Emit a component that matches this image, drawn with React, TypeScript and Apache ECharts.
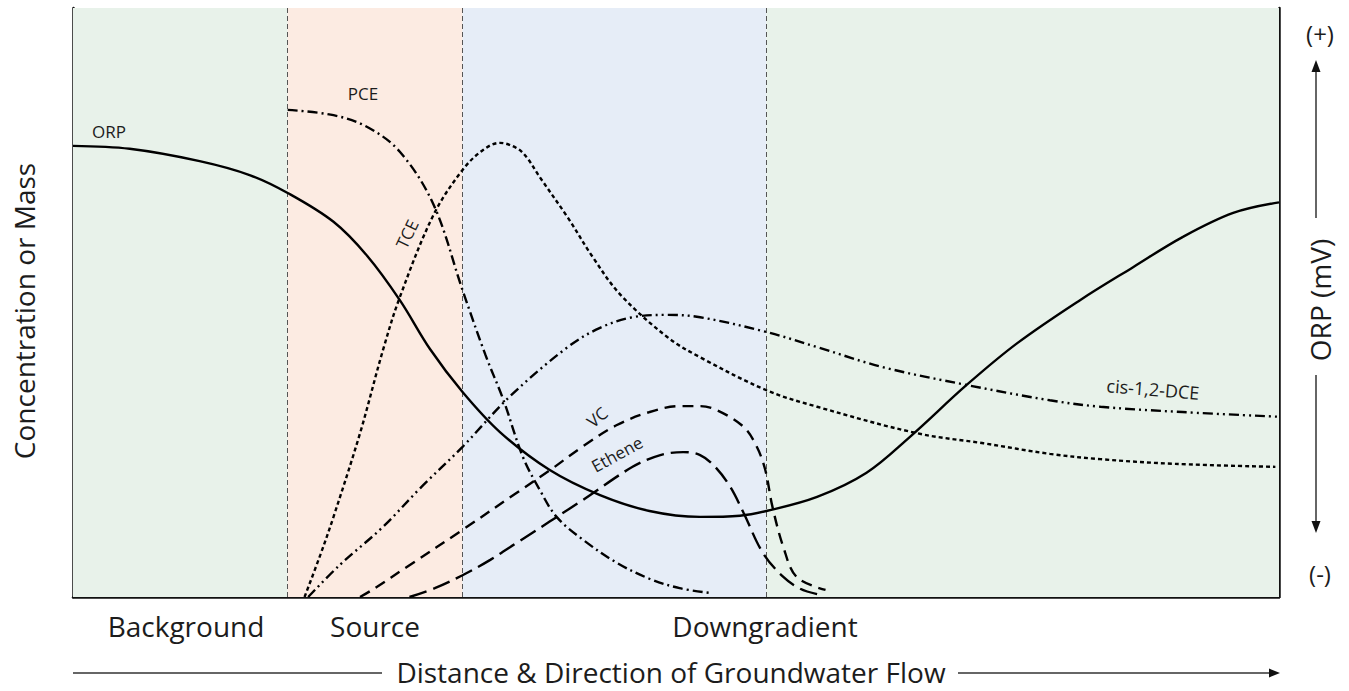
import React, { useEffect, useRef } from "react";
import * as echarts from "echarts";

// Zones along the flow path (distance, 0-100)
const zoneEdges = [0, 17.8, 32.3, 57.5, 100];
const zoneColors = ["#e8f2ea", "#fcebe2", "#e6edf7", "#e8f2ea"];
const zoneBoundaries = [17.8, 32.3, 57.5];

// ORP (relative, 0-100)
const orpX = [0, 4.7, 10.5, 14.7, 17.8, 21.6, 24.4, 27.1, 29.6, 32.3, 35.4, 39.5, 43.7, 47.8, 52.0, 55.3, 57.5, 61.7, 65.8, 69.4, 74.1, 78.3, 83.5, 87.9, 92.0, 96.2, 100];
const orpY = [76.6, 76.1, 74.0, 71.6, 68.6, 63.7, 57.9, 50.4, 42.1, 34.8, 28.0, 21.6, 17.3, 14.6, 13.6, 13.8, 14.6, 17.0, 21.1, 27.2, 36.0, 43.1, 50.4, 56.0, 61.1, 65.2, 67.0];

// PCE
const pceX = [17.8, 21.6, 24.4, 27.1, 29.9, 32.3, 34.2, 35.7, 37.3, 38.7, 40.1, 42.3, 45.1, 47.8, 50.3, 52.8];
const pceY = [82.7, 81.8, 79.8, 75.6, 66.6, 52.1, 41.1, 33.4, 23.8, 18.2, 13.6, 9.7, 5.8, 3.1, 1.5, 0.7];

// TCE
const tceX = [19.2, 20.5, 21.6, 23.8, 25.7, 27.1, 29.9, 32.3, 34.0, 35.4, 36.8, 37.6, 38.7, 41.0, 43.1, 45.4, 49.3, 52.0, 57.5, 61.7, 70.0, 75.5, 81.0, 85.2, 91.4, 99.7];
const tceY = [0, 7.1, 13.6, 27.8, 41.9, 50.9, 64.9, 72.5, 75.9, 77.1, 76.2, 74.7, 71.3, 64.5, 57.7, 51.3, 44.1, 40.7, 35.1, 32.3, 27.8, 26.1, 24.3, 23.4, 22.6, 22.1];

// cis-1,2-DCE
const dceX = [19.5, 22.1, 25.7, 28.8, 32.3, 36.2, 41.0, 43.7, 46.4, 49.3, 52.0, 57.5, 61.9, 67.2, 74.1, 81.0, 85.2, 92.0, 100];
const dceY = [0, 5.4, 11.9, 18.5, 25.5, 34.0, 42.4, 45.7, 47.5, 47.9, 47.5, 45.0, 42.3, 39.0, 36.0, 33.4, 32.3, 31.4, 30.6];

// VC
const vcX = [23.8, 24.8, 27.9, 32.3, 36.8, 39.6, 42.3, 45.1, 47.8, 50.3, 52.0, 53.4, 55.6, 56.7, 57.4, 58.0, 58.9, 60.0, 62.4];
const vcY = [0, 1.2, 5.4, 11.4, 17.7, 21.6, 25.6, 29.2, 31.4, 32.4, 32.4, 31.7, 28.9, 25.5, 21.6, 15.3, 8.5, 3.4, 1.2];

// Ethene
const ethX = [27.9, 30.0, 32.3, 34.6, 36.8, 42.3, 46.4, 48.7, 50.6, 52.0, 53.2, 54.5, 55.6, 57.2, 58.9, 60.3, 61.7];
const ethY = [0, 1.5, 3.7, 6.3, 9.2, 16.5, 22.1, 24.1, 24.6, 24.1, 22.2, 18.7, 14.3, 7.5, 3.4, 1.4, 0.5];

const zoneLabels = ["Background", "Source", "Downgradient"];

const FONT = "'Open Sans', 'Noto Sans', sans-serif";
const TXT = "#1c1c1c";

function pairs(xs: number[], ys: number[]) {
  return xs.map((x, i) => [x, ys[i]]);
}

function curve(name: string, xs: number[], ys: number[], dash: any, yAxisIndex = 0) {
  return {
    name,
    type: "line",
    yAxisIndex,
    data: pairs(xs, ys),
    showSymbol: false,
    symbol: "none",
    smooth: 0.35,
    lineStyle: { color: "#000", width: 2.4, type: dash, cap: "butt" },
    z: 5,
    silent: true,
  };
}

export default function App() {
  const ref = useRef<HTMLDivElement>(null);
  useEffect(() => {
    if (!ref.current) return;
    const chart = echarts.init(ref.current, undefined, { renderer: "svg" });

    const areas = zoneColors.map((c, i) => [
      { xAxis: zoneEdges[i], itemStyle: { color: c } },
      { xAxis: zoneEdges[i + 1] },
    ]);

    const txt = (text: string, x: number, y: number, size: number, rotation = 0) => ({
      type: "text",
      x,
      y,
      rotation,
      z: 20,
      style: {
        text,
        fontSize: size,
        fontFamily: FONT,
        fill: TXT,
        align: "center",
        verticalAlign: "middle",
      },
    });
    const ln = (x1: number, y1: number, x2: number, y2: number) => ({
      type: "line",
      z: 20,
      shape: { x1, y1, x2, y2 },
      style: { stroke: "#333", lineWidth: 1.5 },
    });
    const head = (pts: number[][]) => ({
      type: "polygon",
      z: 20,
      shape: { points: pts },
      style: { fill: "#111" },
    });

    const labelPos = [186, 375, 765];

    chart.setOption({
      animation: false,
      grid: { left: 73, right: 70, top: 8, bottom: 94, containLabel: false },
      xAxis: {
        type: "value",
        min: 0,
        max: 100,
        axisLine: { show: true, lineStyle: { color: "#111", width: 2.5 } },
        axisTick: { show: false },
        axisLabel: { show: false },
        splitLine: { show: false },
      },
      yAxis: [
        {
          type: "value",
          min: 0,
          max: 100,
          axisLine: { show: true, onZero: false, lineStyle: { color: "#111", width: 2.5 } },
          axisTick: { show: false },
          axisLabel: { show: false },
          splitLine: { show: false },
        },
        {
          type: "value",
          min: 0,
          max: 100,
          position: "right",
          axisLine: { show: true, onZero: false, lineStyle: { color: "#111", width: 2.5 } },
          axisTick: { show: false },
          axisLabel: { show: false },
          splitLine: { show: false },
        },
      ],
      series: [
        {
          name: "zones",
          type: "line",
          data: [],
          silent: true,
          z: 1,
          markArea: { silent: true, data: areas },
          markLine: {
            silent: true,
            symbol: "none",
            label: { show: false },
            lineStyle: { color: "#555", width: 1, type: [5, 3] },
            data: zoneBoundaries.map((b) => ({ xAxis: b })),
          },
        },
        curve("ORP", orpX, orpY, "solid", 1),
        curve("PCE", pceX, pceY, [10, 4, 2, 4]),
        curve("TCE", tceX, tceY, [4, 3]),
        curve("cis-1,2-DCE", dceX, dceY, [10, 4, 2, 4, 2, 4]),
        curve("VC", vcX, vcY, [11, 7]),
        curve("Ethene", ethX, ethY, [18, 7]),
      ],
      graphic: [
        txt("ORP", 109, 131, 17),
        txt("PCE", 363, 93, 17),
        txt("TCE", 407, 234, 17, 1.13),
        txt("VC", 597, 417, 17, 0.7),
        txt("Ethene", 617, 454, 17, 0.5),
        txt("cis-1,2-DCE", 1153, 389, 18, -0.08),
        txt("Concentration or Mass", 24, 311, 28, Math.PI / 2),
        txt("ORP (mV)", 1320, 300, 28, Math.PI / 2),
        txt("(+)", 1320, 33, 24),
        txt("(-)", 1320, 573, 24),
        ...zoneLabels.map((l, i) => txt(l, labelPos[i], 626, 28)),
        txt("Distance & Direction of Groundwater Flow", 671, 672, 28),
        ln(73, 673, 382, 673),
        ln(958, 673, 1271, 673),
        head([[1280, 673], [1269, 668.5], [1269, 677.5]]),
        ln(1316, 218, 1316, 70),
        head([[1316, 60], [1311.5, 72], [1320.5, 72]]),
        ln(1316, 375, 1316, 522),
        head([[1316, 533], [1311.5, 521], [1320.5, 521]]),
      ],
    });
    return () => chart.dispose();
  }, []);
  return (
    <div
      ref={ref}
      style={{ position: "fixed", left: 0, top: 0, width: 1349, height: 691, background: "#fff" }}
    />
  );
}
